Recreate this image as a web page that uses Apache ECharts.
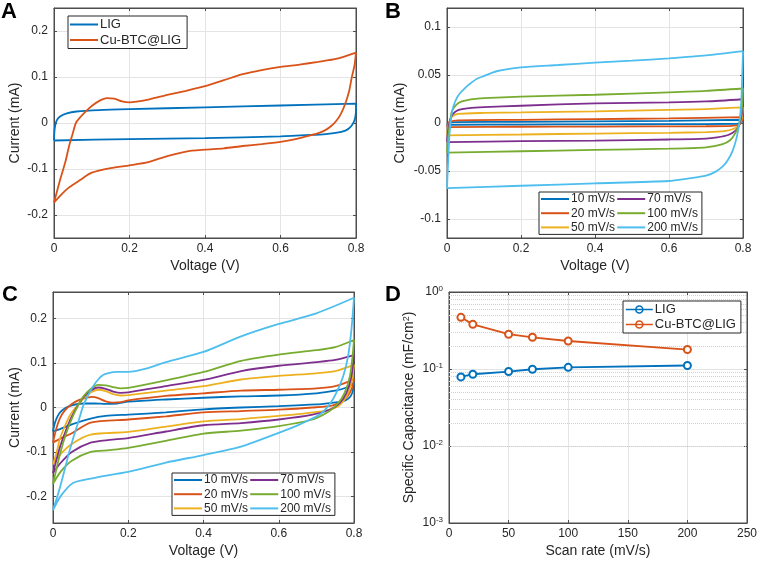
<!DOCTYPE html>
<html><head><meta charset="utf-8">
<script src="https://cdn.jsdelivr.net/npm/echarts@6/dist/echarts.min.js"></script>
<style>html,body{margin:0;padding:0;background:#fff}#c{width:760px;height:562px}</style>
</head><body><div id="c"></div>
<script>
// ---------- DATA ----------
const rateNames = ['10 mV/s','20 mV/s','50 mV/s','70 mV/s','100 mV/s','200 mV/s'];
const matNames = ['LIG','Cu-BTC@LIG'];

// Panel A: CV loops (voltage V, current mA)
const A_LIG = [[0,-0.038],[0.001,-0.02],[0.003,-0.006],[0.007,0.005],[0.016,0.014],[0.034,0.021],[0.06,0.025],[0.12,0.028],[0.2,0.030],[0.4,0.034],[0.6,0.038],[0.8,0.042],
  [0.8,0.03],[0.799,0.017],[0.796,0.006],[0.79,-0.004],[0.781,-0.012],[0.77,-0.017],[0.75,-0.021],[0.72,-0.024],[0.68,-0.026],[0.6,-0.029],[0.4,-0.033],[0.2,-0.035],[0,-0.038]];
const A_CU = [[0,-0.173],[0.016,-0.124],[0.03,-0.085],[0.04,-0.05],[0.05,-0.022],[0.058,0],[0.07,0.013],[0.085,0.026],[0.1,0.037],[0.12,0.048],[0.14,0.054],[0.16,0.053],[0.18,0.047],[0.2,0.045],[0.25,0.051],[0.3,0.061],[0.35,0.07],[0.4,0.080],[0.45,0.093],[0.5,0.106],[0.55,0.115],[0.6,0.122],[0.65,0.127],[0.7,0.133],[0.75,0.14],[0.8,0.153],
  [0.796,0.125],[0.789,0.1],[0.782,0.07],[0.772,0.043],[0.76,0.02],[0.748,0.005],[0.735,-0.006],[0.72,-0.015],[0.7,-0.022],[0.668,-0.029],[0.64,-0.035],[0.6,-0.041],[0.55,-0.046],[0.5,-0.05],[0.45,-0.055],[0.4,-0.058],[0.35,-0.062],[0.3,-0.072],[0.25,-0.085],[0.2,-0.092],[0.15,-0.098],[0.1,-0.108],[0.069,-0.124],[0.04,-0.14],[0.02,-0.155],[0,-0.173]];

// Panel B: LIG at different scan rates
const B_10 = [[0,-0.002],[0.004,0],[0.02,0.0009],[0.2,0.0012],[0.4,0.0016],[0.6,0.0022],[0.8,0.0034],[0.795,0.0],[0.785,-0.0008],[0.6,-0.0012],[0.4,-0.0014],[0.2,-0.0016],[0,-0.002]];
const B_20 = [[0,-0.0042],[0.003,-0.001],[0.008,0.0015],[0.03,0.0028],[0.2,0.0033],[0.4,0.0041],[0.6,0.0048],[0.8,0.0062],[0.797,0.002],[0.79,-0.0015],[0.77,-0.003],[0.7,-0.0034],[0.4,-0.0037],[0.2,-0.0039],[0,-0.0042]];
const B_50 = [[0,-0.013],[0.003,-0.005],[0.008,0.003],[0.015,0.007],[0.03,0.0095],[0.1,0.0105],[0.2,0.011],[0.4,0.0122],[0.6,0.0138],[0.7,0.0145],[0.8,0.0162],[0.797,0.006],[0.79,-0.002],[0.775,-0.006],[0.75,-0.0085],[0.7,-0.0095],[0.6,-0.0102],[0.4,-0.011],[0.2,-0.012],[0,-0.013]];
const B_70 = [[0,-0.020],[0.003,-0.008],[0.008,0.003],[0.015,0.009],[0.03,0.0135],[0.06,0.0155],[0.1,0.0165],[0.2,0.018],[0.4,0.0205],[0.6,0.0215],[0.7,0.0225],[0.8,0.0248],[0.797,0.01],[0.79,-0.002],[0.78,-0.008],[0.76,-0.0125],[0.73,-0.015],[0.7,-0.0163],[0.6,-0.0172],[0.4,-0.0183],[0.2,-0.019],[0,-0.020]];
const B_100 = [[0,-0.031],[0.003,-0.015],[0.008,0.0],[0.013,0.012],[0.025,0.019],[0.04,0.0225],[0.07,0.025],[0.1,0.026],[0.2,0.0275],[0.4,0.0295],[0.6,0.032],[0.7,0.0335],[0.8,0.036],[0.797,0.015],[0.79,0.0],[0.78,-0.01],[0.765,-0.018],[0.745,-0.022],[0.7,-0.0255],[0.6,-0.0268],[0.4,-0.028],[0.2,-0.0295],[0,-0.031]];
const B_200 = [[0,-0.068],[0.003,-0.04],[0.007,-0.01],[0.012,0.008],[0.017,0.017],[0.025,0.025],[0.035,0.031],[0.05,0.037],[0.062,0.041],[0.08,0.046],[0.1,0.049],[0.134,0.054],[0.2,0.058],[0.3,0.0605],[0.4,0.063],[0.5,0.065],[0.6,0.0675],[0.7,0.0705],[0.8,0.075],
  [0.798,0.05],[0.795,0.02],[0.79,0.0],[0.783,-0.015],[0.773,-0.028],[0.76,-0.038],[0.746,-0.045],[0.725,-0.051],[0.7,-0.055],[0.65,-0.058],[0.6,-0.0605],[0.4,-0.063],[0.2,-0.0655],[0,-0.068]];

// Panel C: Cu-BTC@LIG at different scan rates
const C_10 = [[0,-0.054],[0.005,-0.035],[0.012,-0.02],[0.02,-0.01],[0.035,0.0],[0.05,0.005],[0.08,0.009],[0.11,0.009],[0.14,0.008],[0.17,0.009],[0.2,0.013],[0.3,0.018],[0.4,0.022],[0.5,0.025],[0.6,0.027],[0.7,0.032],[0.75,0.038],[0.78,0.045],[0.8,0.055],
  [0.795,0.032],[0.785,0.02],[0.77,0.014],[0.735,0.01],[0.7,0.007],[0.6,0.003],[0.5,0.0],[0.4,-0.004],[0.3,-0.011],[0.2,-0.016],[0.14,-0.019],[0.1,-0.025],[0.05,-0.038],[0.02,-0.048],[0,-0.054]];
const C_20 = [[0,-0.079],[0.008,-0.05],[0.018,-0.025],[0.03,-0.008],[0.05,0.008],[0.07,0.017],[0.09,0.022],[0.105,0.024],[0.12,0.021],[0.14,0.014],[0.16,0.011],[0.18,0.012],[0.2,0.016],[0.3,0.026],[0.4,0.032],[0.5,0.038],[0.6,0.04],[0.7,0.043],[0.75,0.048],[0.8,0.064],
  [0.793,0.04],[0.775,0.018],[0.744,0.005],[0.69,0.0],[0.6,-0.005],[0.5,-0.008],[0.4,-0.011],[0.3,-0.02],[0.2,-0.027],[0.1,-0.034],[0.05,-0.058],[0.02,-0.07],[0,-0.079]];
const C_50 = [[0,-0.128],[0.01,-0.1],[0.018,-0.071],[0.03,-0.045],[0.044,-0.019],[0.06,0.0],[0.071,0.01],[0.085,0.024],[0.1,0.034],[0.12,0.04],[0.14,0.037],[0.16,0.03],[0.18,0.027],[0.2,0.028],[0.3,0.038],[0.4,0.048],[0.5,0.063],[0.6,0.071],[0.7,0.077],[0.75,0.082],[0.8,0.096],
  [0.793,0.055],[0.78,0.025],[0.758,0.003],[0.718,-0.008],[0.6,-0.019],[0.5,-0.026],[0.4,-0.031],[0.3,-0.043],[0.2,-0.055],[0.1,-0.061],[0.05,-0.082],[0.02,-0.105],[0,-0.128]];
const C_70 = [[0,-0.148],[0.01,-0.115],[0.02,-0.085],[0.035,-0.05],[0.05,-0.02],[0.065,0.003],[0.08,0.022],[0.1,0.038],[0.12,0.045],[0.14,0.042],[0.16,0.036],[0.18,0.033],[0.2,0.034],[0.3,0.048],[0.4,0.062],[0.5,0.082],[0.6,0.094],[0.7,0.102],[0.75,0.107],[0.8,0.118],
  [0.793,0.07],[0.78,0.033],[0.762,0.01],[0.735,-0.005],[0.69,-0.016],[0.6,-0.027],[0.5,-0.035],[0.4,-0.04],[0.3,-0.054],[0.2,-0.069],[0.15,-0.073],[0.1,-0.079],[0.05,-0.1],[0.02,-0.125],[0,-0.148]];
const C_100 = [[0,-0.172],[0.01,-0.135],[0.02,-0.1],[0.035,-0.058],[0.05,-0.025],[0.065,0.002],[0.08,0.024],[0.1,0.042],[0.12,0.051],[0.14,0.05],[0.16,0.046],[0.18,0.043],[0.2,0.044],[0.3,0.061],[0.4,0.08],[0.5,0.105],[0.6,0.119],[0.7,0.129],[0.75,0.136],[0.8,0.152],
  [0.796,0.114],[0.789,0.07],[0.775,0.033],[0.758,0.01],[0.735,-0.008],[0.69,-0.027],[0.6,-0.042],[0.5,-0.052],[0.4,-0.059],[0.3,-0.075],[0.2,-0.091],[0.15,-0.096],[0.1,-0.1],[0.05,-0.12],[0.02,-0.145],[0,-0.172]];
const C_200 = [[0,-0.231],[0.015,-0.19],[0.027,-0.153],[0.04,-0.11],[0.053,-0.071],[0.067,-0.033],[0.08,0.003],[0.093,0.027],[0.106,0.047],[0.12,0.063],[0.133,0.073],[0.15,0.078],[0.17,0.08],[0.2,0.08],[0.25,0.088],[0.3,0.102],[0.4,0.125],[0.5,0.16],[0.6,0.188],[0.7,0.212],[0.8,0.247],
  [0.793,0.174],[0.784,0.114],[0.771,0.07],[0.753,0.033],[0.735,0.007],[0.709,-0.016],[0.656,-0.038],[0.6,-0.057],[0.5,-0.088],[0.4,-0.107],[0.3,-0.124],[0.2,-0.145],[0.15,-0.152],[0.1,-0.16],[0.053,-0.17],[0.02,-0.2],[0,-0.231]];

// Panel D: specific capacitance vs scan rate
const scanRates = [10,20,50,70,100,200];
const capLIG = [0.079,0.0855,0.0927,0.0993,0.105,0.111];
const capCuBTC = [0.469,0.38,0.283,0.258,0.231,0.179];

// ---------- STYLE ----------
const FONT = '"Liberation Sans", Arial, Helvetica, sans-serif';
const COLORS = ['#0072BD','#D95319','#EDB120','#7E2F8E','#77AC30','#4DBEEE'];
const AX = '#4d4d4d', GRIDC = '#e4e4e4', TXT = '#262626';

const grids = [
  {left:54, top:8, width:302, height:230},
  {left:447, top:8, width:296, height:230},
  {left:53, top:292, width:301, height:231},
  {left:449, top:292, width:299, height:231}
].map(g => Object.assign({show:true, borderColor:AX, borderWidth:1, backgroundColor:'#fff'}, g));

const tickStyle = {inside:true, length:3, lineStyle:{color:AX}};
const lineAx = {show:true, onZero:false, lineStyle:{color:AX, width:1}};
const lbl = {color:TXT, fontSize:12, fontFamily:FONT};

function xPair(gi, cfg) {
  const base = {gridIndex:gi, type:'value', min:cfg.min, max:cfg.max, interval:cfg.interval, axisTick:tickStyle, axisLine:lineAx};
  return [
    Object.assign({}, base, {position:'bottom', name:cfg.name, nameLocation:'middle', nameGap:21,
      nameTextStyle:{fontSize:14, color:TXT, fontFamily:FONT},
      axisLabel:Object.assign({margin:5}, lbl), splitLine:{show:true, lineStyle:{color:GRIDC}}}),
    Object.assign({}, base, {position:'top', axisLabel:{show:false}, splitLine:{show:false}})
  ];
}
function yPair(gi, cfg) {
  const base = {gridIndex:gi, type:cfg.type || 'value', min:cfg.min, max:cfg.max, axisTick:tickStyle, axisLine:lineAx};
  if (cfg.splitNumber) base.splitNumber = cfg.splitNumber;
  if (cfg.type === 'log') base.logBase = 10;
  return [
    Object.assign({}, base, {position:'left', name:cfg.name, nameLocation:'middle', nameGap:cfg.nameGap,
      nameTextStyle:Object.assign({fontSize:14, color:TXT, fontFamily:FONT}, cfg.nameRich ? {rich:cfg.nameRich} : {}),
      axisLabel:Object.assign({margin:6, showMinLabel:cfg.type === 'log', showMaxLabel:cfg.type === 'log'}, lbl, cfg.labelExtra || {}),
      splitLine:{show:true, lineStyle:{color:GRIDC}}}),
    Object.assign({}, base, {position:'right', axisLabel:{show:false}, splitLine:{show:false}})
  ];
}

const xAxes = [].concat(
  xPair(0, {min:0, max:0.8, interval:0.2, name:'Voltage (V)'}),
  xPair(1, {min:0, max:0.8, interval:0.2, name:'Voltage (V)'}),
  xPair(2, {min:0, max:0.8, interval:0.2, name:'Voltage (V)'}),
  xPair(3, {min:0, max:250, interval:50, name:'Scan rate (mV/s)'})
);
const supRich = {b:{fontSize:12, fontFamily:FONT, color:TXT, lineHeight:14}, sup:{fontSize:8, fontFamily:FONT, color:TXT, verticalAlign:'top', lineHeight:8}};
const yAxes = [].concat(
  yPair(0, {min:-0.25, max:0.25, splitNumber:5, name:'Current (mA)', nameGap:32}),
  yPair(1, {min:-0.12, max:0.12, splitNumber:5, name:'Current (mA)', nameGap:40}),
  yPair(2, {min:-0.26, max:0.26, splitNumber:5, name:'Current (mA)', nameGap:31}),
  yPair(3, {type:'log', min:0.001, max:1, name:'Specific Capacitance (mF/cm{sup2|2})', nameGap:33,
    nameRich:{sup2:{fontSize:9, fontFamily:FONT, color:TXT, verticalAlign:'top', lineHeight:9}},
    labelExtra:{formatter: v => '{b|10}{sup|' + Math.round(Math.log10(v)) + '}', rich:supRich}})
);

function cv(name, data, gi, color) {
  return {type:'line', name:name, data:data, xAxisIndex:2*gi, yAxisIndex:2*gi, symbol:'none', smooth:0.25,
    lineStyle:{color:color, width:1.8}, itemStyle:{color:color}, clip:true, animation:false};
}

const series = [
  cv(matNames[0], A_LIG, 0, COLORS[0]),
  cv(matNames[1], A_CU, 0, COLORS[1])
];
[B_10,B_20,B_50,B_70,B_100,B_200].forEach((d,i) => series.push(cv(rateNames[i], d, 1, COLORS[i])));
[C_10,C_20,C_50,C_70,C_100,C_200].forEach((d,i) => series.push(cv(rateNames[i] + '\u200b', d, 2, COLORS[i])));

// minor log grid lines for panel D (2..9 x 10^k)
const minorVals = [];
for (let k = -3; k < 0; k++) for (let m = 2; m <= 9; m++) minorVals.push(m * Math.pow(10, k));
series.push({type:'line', xAxisIndex:6, yAxisIndex:6, data:[], silent:true, animation:false, z:1,
  markLine:{silent:true, symbol:'none', animation:false, z:1, label:{show:false},
    lineStyle:{type:'dotted', color:'#d0d0d0', width:1}, data:minorVals.map(v => ({yAxis:v}))}});

[[capLIG, 0],[capCuBTC, 1]].forEach(([vals, i]) => {
  series.push({type:'line', name:matNames[i] + ' ', data:scanRates.map((x,j) => [x, vals[j]]),
    xAxisIndex:6, yAxisIndex:6, symbol:'emptyCircle', symbolSize:7, showSymbol:true,
    lineStyle:{color:COLORS[i], width:1.8}, itemStyle:{color:COLORS[i], borderWidth:1.5}, animation:false});
});

const legendBase = {orient:'vertical', borderColor:'#262626', borderWidth:1, backgroundColor:'#fff', borderRadius:0, z:10,
  selectedMode:false, icon:'rect', textStyle:{fontSize:13, color:TXT, fontFamily:FONT, padding:[0,0,0,-3]}};
const txt12 = {fontSize:12, color:TXT, fontFamily:FONT, padding:[0,0,0,-3]};
const markerIcon = 'path://M0,3.5 L27,3.5 M17,3.5 A3.5,3.5 0 1 1 10,3.5 A3.5,3.5 0 1 1 17,3.5';

const legends = [
  Object.assign({}, legendBase, {left:68, top:16, data:matNames, itemWidth:28, itemHeight:2, itemGap:2.5, padding:[2,6,2,2]}),
  Object.assign({}, legendBase, {left:539, top:192, height:46, data:rateNames, itemWidth:28, itemHeight:2, itemGap:2.2,
    padding:[1,4,1,2], textStyle:txt12}),
  Object.assign({}, legendBase, {left:172, top:473, height:46, data:rateNames.map(n => n + '\u200b'), itemWidth:28, itemHeight:2, itemGap:2.2,
    padding:[1,4,1,2], textStyle:txt12, formatter: n => n.replace('\u200b','')}),
  Object.assign({}, legendBase, {left:623, top:301, itemWidth:27, itemHeight:7, itemGap:2,
    padding:[2,5,2,2], formatter: n => n.trim(),
    data:matNames.map((n,i) => ({name:n + ' ', icon:markerIcon,
      itemStyle:{color:'#fff', borderColor:COLORS[i], borderWidth:1.6}}))})
];

const letters = [['A',1,1],['B',385,1],['C',2,284],['D',385,284]].map(([t,x,y]) => ({
  type:'text', left:x, top:y, style:{text:t, font:'bold 22px ' + FONT, fill:'#000'}
}));

const chart = echarts.init(document.getElementById('c'), null, {renderer:'canvas'});
chart.setOption({
  animation:false,
  backgroundColor:'#fff',
  grid:grids, xAxis:xAxes, yAxis:yAxes, series:series, legend:legends, graphic:letters
});
</script></body></html>
